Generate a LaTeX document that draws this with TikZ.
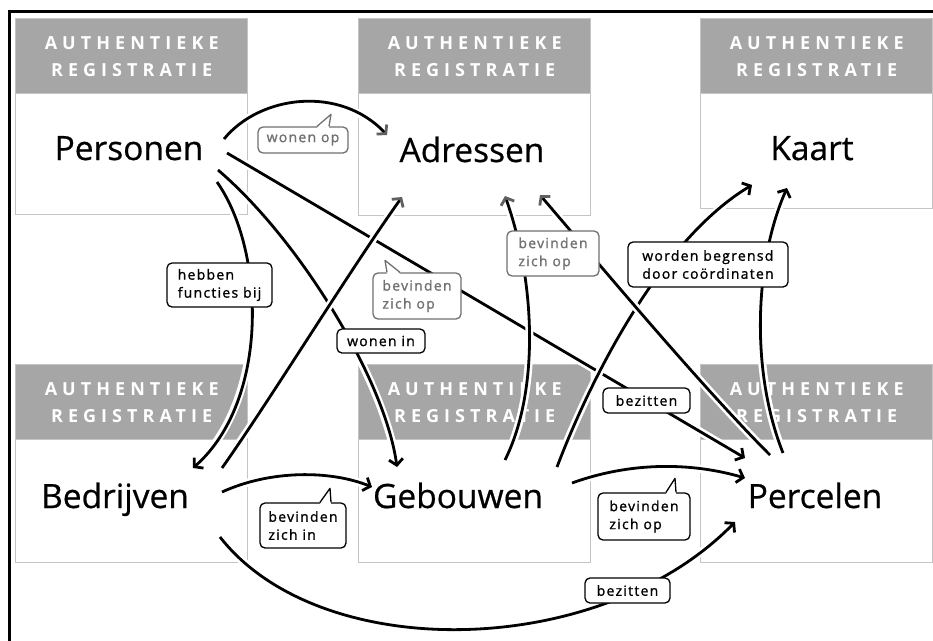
\documentclass[tikz,border=0pt]{standalone}
\usepackage{fontspec}
\setmainfont{Open Sans}
\newfontfamily\headfont{Open Sans}[LetterSpace=28]
\newfontfamily\labfont{Open Sans}[LetterSpace=9,FakeBold=1.2]
\newfontfamily\namefont{Open Sans}[FakeBold=0.6]
\usetikzlibrary{arrows.meta,calc}
\definecolor{boxline}{HTML}{C4C4C4}
\definecolor{headfill}{HTML}{A6A6A6}
\definecolor{lblgray}{HTML}{707070}
\definecolor{tipgray}{HTML}{606060}
\newcommand\bubtail[6]{%
  \fill[white] ([shift={(#2,1.6)}]#1.north) -- ([shift={(#4,#5)}]#1.north) -- ([shift={(#3,1.6)}]#1.north) -- cycle;
  \draw[#6,line width=1.3pt,line join=round] ([shift={(#2,0)}]#1.north) -- ([shift={(#4,#5)}]#1.north) -- ([shift={(#3,0)}]#1.north);}
\begin{document}
\begin{tikzpicture}[x=1pt,y=-1pt,
  regbox/.style={draw=boxline,line width=1.4pt,fill=white,anchor=north west,minimum width=232pt,inner sep=0pt},
  headbox/.style={draw=boxline,line width=1.4pt,fill=headfill,anchor=north west,minimum width=232pt,minimum height=75pt,inner sep=0pt,text=white,align=center,font=\headfont\bfseries\fontsize{18}{27}\selectfont},
  regname/.style={anchor=base,inner sep=0pt,font=\namefont\fontsize{33.5}{38}\selectfont},
  conn/.style={line width=2.8pt,-{Straight Barb[length=6pt,width=14pt]},preaction={draw=white,line width=8pt,-}},
  gconn/.style={line width=2.8pt,-{Straight Barb[length=6pt,width=14pt,color=tipgray]},preaction={draw=white,line width=8pt,-}},
  lbl/.style={draw=black,fill=white,rounded corners=5pt,line width=1.3pt,inner sep=0pt,align=left,font=\labfont\fontsize{14}{18}\selectfont},
  glbl/.style={lbl,draw=lblgray,text=lblgray}]
\useasboundingbox (0,0) rectangle (933,640);
\fill[white] (0,0) rectangle (933,640);
\draw[line width=3pt] (9.5,700) -- (9.5,11) -- (1000,11);

% boxes
\node[regbox,minimum height=196pt] (bpers) at (15,18) {};
\node[headbox] (hpers) at (15,18) {AUTHENTIEKE\\REGISTRATIE};
\node[regbox,minimum height=197pt] (badr) at (358,18) {};
\node[headbox] (hadr) at (358,18) {AUTHENTIEKE\\REGISTRATIE};
\node[regbox,minimum height=190pt] (bkaart) at (700,18) {};
\node[headbox] (hkaart) at (700,18) {AUTHENTIEKE\\REGISTRATIE};
\node[regbox,minimum height=198pt] (bbedr) at (15,364) {};
\node[headbox] (hbedr) at (15,364) {AUTHENTIEKE\\REGISTRATIE};
\node[regbox,minimum height=198pt] (bgeb) at (358,364) {};
\node[headbox] (hgeb) at (358,364) {AUTHENTIEKE\\REGISTRATIE};
\node[regbox,minimum height=198pt] (bperc) at (700,364) {};
\node[headbox] (hperc) at (700,364) {AUTHENTIEKE\\REGISTRATIE};

% names
\node[regname] (pers) at (129,160) {Personen};
\node[regname] (adr) at (472,162) {Adressen};
\node[regname] (kaart) at (812,160) {Kaart};
\node[regname] (bedr) at (115,508) {Bedrijven};
\node[regname] (geb) at (458,508) {Gebouwen};
\node[regname] (perc) at (815,508) {Percelen};

% connectors
\draw[conn] ([shift={(98,-7)}]pers.base) -- ([shift={(-70,-50)}]perc.base);
\draw[conn] ([shift={(99,-41)}]geb.base) .. controls (590,380) and (660,240) .. ([shift={(-60,25)}]kaart.base);
\draw[conn] ([shift={(89,10)}]pers.base) .. controls (300,240) and (385,380) .. ([shift={(-61,-41)}]geb.base);
\draw[conn] ([shift={(88,22)}]pers.base) .. controls (265,250) and (270,400) .. ([shift={(78,-40)}]bedr.base);
\draw[gconn] ([shift={(95,-21)}]pers.base) .. controls (260,95) and (340,85) .. ([shift={(-85,-27)}]adr.base);
\draw[gconn] ([shift={(107,-40)}]bedr.base) .. controls (270,400) and (350,270) .. ([shift={(-70,35)}]adr.base);
\draw[gconn] ([shift={(47,-48)}]geb.base) .. controls (540,390) and (535,280) .. ([shift={(33,34)}]adr.base);
\draw[gconn] ([shift={(-45,-53)}]perc.base) .. controls (700,385) and (600,265) .. ([shift={(68,33)}]adr.base);
\draw[conn] ([shift={(-32,-55)}]perc.base) .. controls (750,370) and (755,260) .. ([shift={(-25,28)}]kaart.base);
\draw[conn] ([shift={(107,-16)}]bedr.base) .. controls (270,470) and (330,470) .. ([shift={(-86,-21)}]geb.base);
\draw[conn] ([shift={(114,-25)}]geb.base) .. controls (630,462) and (690,462) .. ([shift={(-70,-30)}]perc.base);
\draw[conn] ([shift={(105,29)}]bedr.base) .. controls (320,665) and (600,660) .. ([shift={(-80,14)}]perc.base);

% labels
\node[glbl,minimum width=90pt,minimum height=26pt] (lwo) at (303,140) {wonen op};
\node[glbl,minimum width=88pt,minimum height=46pt] (lbzo1) at (417,296) {bevinden\\zich op};
\node[lbl,minimum width=105pt,minimum height=44pt] (lhf) at (219.5,285) {hebben\\functies bij};
\node[lbl,minimum width=88pt,minimum height=24pt] (lwi) at (381,341) {wonen in};
\node[glbl,minimum width=92pt,minimum height=45pt] (lbzo2) at (553,253.5) {bevinden\\zich op};
\node[lbl,minimum width=160pt,minimum height=45pt] (lwb) at (708,264.5) {worden begrensd\\door coördinaten};
\node[lbl,minimum width=87pt,minimum height=25pt] (lbz1) at (646.5,400.5) {bezitten};
\node[lbl,minimum width=86pt,minimum height=45pt] (lbzi) at (303,525.5) {bevinden\\zich in};
\node[lbl,minimum width=92pt,minimum height=47pt] (lbzo3) at (644,516.5) {bevinden\\zich op};
\node[lbl,minimum width=85pt,minimum height=25pt] (lbz2) at (627.5,590.5) {bezitten};

\bubtail{lwo}{14}{26}{28}{-12}{lblgray}
\bubtail{lbzo1}{-30}{-17}{-32}{-12}{lblgray}
\bubtail{lbzi}{17}{28}{27}{-14}{black}
\bubtail{lbzo3}{22}{32}{31}{-14}{black}
\end{tikzpicture}
\end{document}
